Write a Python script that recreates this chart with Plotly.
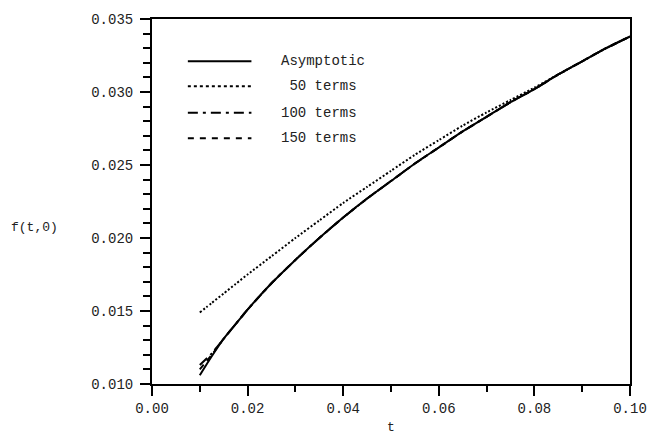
import plotly.graph_objects as go

# time values and computed f(t,0) for each approximation
t_vals = [0.010, 0.0125, 0.015, 0.0175, 0.020, 0.025, 0.030, 0.035, 0.040, 0.045,
          0.050, 0.055, 0.060, 0.065, 0.070, 0.075, 0.080, 0.085, 0.090, 0.095, 0.100]

f_asymptotic = [0.0106, 0.0119, 0.0131, 0.0141, 0.0151, 0.0169, 0.0185, 0.0200, 0.0214, 0.0227,
                0.0239, 0.0251, 0.0262, 0.0273, 0.0283, 0.0293, 0.0302, 0.0312, 0.0321, 0.0330, 0.0338]
f_50 = [0.0149, 0.01555, 0.0162, 0.01685, 0.0175, 0.01875, 0.0200, 0.0212, 0.0224, 0.0235,
        0.0246, 0.0257, 0.0267, 0.0277, 0.0286, 0.02945, 0.0303, 0.0312, 0.0321, 0.0330, 0.0338]
f_100 = [0.0113, 0.0121, 0.0131, 0.0141, 0.0151, 0.0169, 0.0185, 0.0200, 0.0214, 0.0227,
         0.0239, 0.0251, 0.0262, 0.0273, 0.0283, 0.0293, 0.0302, 0.0312, 0.0321, 0.0330, 0.0338]
f_150 = [0.0110, 0.0120, 0.0131, 0.0141, 0.0151, 0.0169, 0.0185, 0.0200, 0.0214, 0.0227,
         0.0239, 0.0251, 0.0262, 0.0273, 0.0283, 0.0293, 0.0302, 0.0312, 0.0321, 0.0330, 0.0338]

series_names = ["Asymptotic", " 50 terms", "100 terms", "150 terms"]
series_values = [f_asymptotic, f_50, f_100, f_150]
series_dash = ["solid", "2px,2px", "10px,4px,3px,4px", "6px,5px"]
legend_dash = ["solid", "3px,3px", "10px,5px,3px,5px", "6px,6px"]

x_tickvals = [0.00, 0.02, 0.04, 0.06, 0.08, 0.10]
y_tickvals = [0.010, 0.015, 0.020, 0.025, 0.030, 0.035]

FONT = "Liberation Mono, DejaVu Sans Mono, monospace"

fig = go.Figure()
# draw in reverse so the solid asymptotic curve sits on top
for name, vals, dash in reversed(list(zip(series_names, series_values, series_dash))):
    fig.add_trace(go.Scatter(
        x=t_vals, y=vals, mode="lines", name=name.strip(),
        line=dict(color="black", width=2, dash=dash, shape="spline", smoothing=0.6),
        showlegend=False,
    ))

axis_common = dict(
    showline=True, linecolor="black", linewidth=2, mirror=True,
    showgrid=False, zeroline=False, ticks="outside", ticklen=10, tickwidth=2,
    tickcolor="black", tickfont=dict(family=FONT, size=14, color="#222"),
)
fig.update_xaxes(
    range=[0, 0.1], tickvals=x_tickvals, tickformat=".2f",
    minor=dict(ticks="outside", ticklen=6, tickwidth=2, tickcolor="black", dtick=0.01,
               tick0=0, showgrid=False),
    **axis_common,
)
fig.update_yaxes(
    range=[0.010, 0.035], tickvals=y_tickvals, tickformat=".3f",
    minor=dict(ticks="outside", ticklen=7, tickwidth=2, tickcolor="black", dtick=0.001,
               tick0=0.010, showgrid=False),
    ticklabelstandoff=4,
    **axis_common,
)

# legend drawn as line samples with labels inside the plot area
legend_rows = [0.884, 0.816, 0.743, 0.673]
for label, dash, ly in zip(series_names, legend_dash, legend_rows):
    fig.add_shape(type="line", xref="paper", yref="paper",
                  x0=0.075, x1=0.208, y0=ly, y1=ly,
                  line=dict(color="black", width=2, dash=dash))
    fig.add_annotation(x=0.266, y=ly, xref="paper", yref="paper", text=label.replace(" ", "&nbsp;"),
                       showarrow=False, xanchor="left", yanchor="middle",
                       font=dict(family=FONT, size=14, color="#222"))

fig.add_annotation(x=-0.30, y=0.43, xref="paper", yref="paper", text="f(t,0)",
                   showarrow=False, xanchor="left", yanchor="middle",
                   font=dict(family=FONT, size=13, color="#222"))
fig.add_annotation(x=0.5, y=-0.118, xref="paper", yref="paper", text="t",
                   showarrow=False, xanchor="center", yanchor="middle",
                   font=dict(family=FONT, size=13, color="#222"))

fig.update_layout(
    width=659, height=436,
    margin=dict(l=152, r=26, t=15, b=52),
    paper_bgcolor="white", plot_bgcolor="white",
)

fig.write_html("out.html")
